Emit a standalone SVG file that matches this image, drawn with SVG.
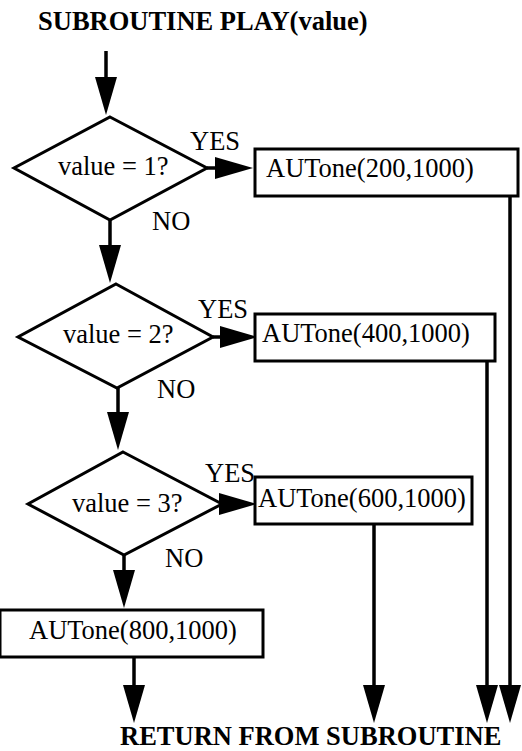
<svg xmlns="http://www.w3.org/2000/svg" width="522" height="751" viewBox="0 0 522 751">
  <style>
    text { font-family: "Liberation Serif", "Times New Roman", serif; font-size: 26.5px; fill: #000; }
    .title { font-weight: bold; }
    .shape { fill: #fff; stroke: #000; stroke-width: 3; }
    .wire { fill: none; stroke: #000; stroke-width: 3.5; }
  </style>
  <defs>
    <marker id="head" markerUnits="userSpaceOnUse" markerWidth="38" markerHeight="22" refX="18" refY="11" orient="auto">
      <path d="M0,0 L38,11 L0,22 z" fill="#000"/>
    </marker>
  </defs>

  <rect width="522" height="751" fill="#fff"/>

  <g id="start">
    <text class="title" x="38" y="30">SUBROUTINE PLAY(value)</text>
  </g>

  <g id="connectors">
    <!-- entry -->
    <path class="wire" d="M106,51 V95" marker-end="url(#head)"/>
    <!-- NO branches -->
    <path class="wire" d="M110,220 V263" marker-end="url(#head)"/>
    <path class="wire" d="M118,388 V430" marker-end="url(#head)"/>
    <path class="wire" d="M124,555 V588" marker-end="url(#head)"/>
    <!-- YES branches -->
    <path class="wire" d="M207,168 H233" marker-end="url(#head)"/>
    <path class="wire" d="M213,337 H238" marker-end="url(#head)"/>
    <path class="wire" d="M222,504 H237" marker-end="url(#head)"/>
    <!-- returns -->
    <path class="wire" d="M510,196 V703" marker-end="url(#head)"/>
    <path class="wire" d="M487,361 V703" marker-end="url(#head)"/>
    <path class="wire" d="M374,524 V703" marker-end="url(#head)"/>
    <path class="wire" d="M134,657 V703" marker-end="url(#head)"/>
  </g>

  <g id="test1">
    <polygon class="shape" points="110,117 207,168 110,220 14,168"/>
    <text x="58" y="175">value = 1?</text>
    <text x="190" y="150">YES</text>
    <text x="152" y="230">NO</text>
  </g>
  <g id="tone200">
    <rect class="shape" x="255" y="149" width="263" height="47"/>
    <text x="266" y="177">AUTone(200,1000)</text>
  </g>

  <g id="test2">
    <polygon class="shape" points="116,284 213,337 117,388 18,337"/>
    <text x="63" y="343">value = 2?</text>
    <text x="198" y="318">YES</text>
    <text x="157" y="398">NO</text>
  </g>
  <g id="tone400">
    <rect class="shape" x="255" y="314" width="240" height="47"/>
    <text x="262" y="342">AUTone(400,1000)</text>
  </g>

  <g id="test3">
    <polygon class="shape" points="123,452 222,504 124,555 28,504"/>
    <text x="72" y="512">value = 3?</text>
    <text x="205" y="482">YES</text>
    <text x="165" y="567">NO</text>
  </g>
  <g id="tone600">
    <rect class="shape" x="255" y="477" width="217" height="47"/>
    <text x="258" y="507">AUTone(600,1000)</text>
  </g>

  <g id="tone800">
    <rect class="shape" x="0" y="610" width="263" height="47"/>
    <text x="29" y="639">AUTone(800,1000)</text>
  </g>

  <g id="end">
    <text class="title" x="120" y="745">RETURN FROM SUBROUTINE</text>
  </g>
</svg>
